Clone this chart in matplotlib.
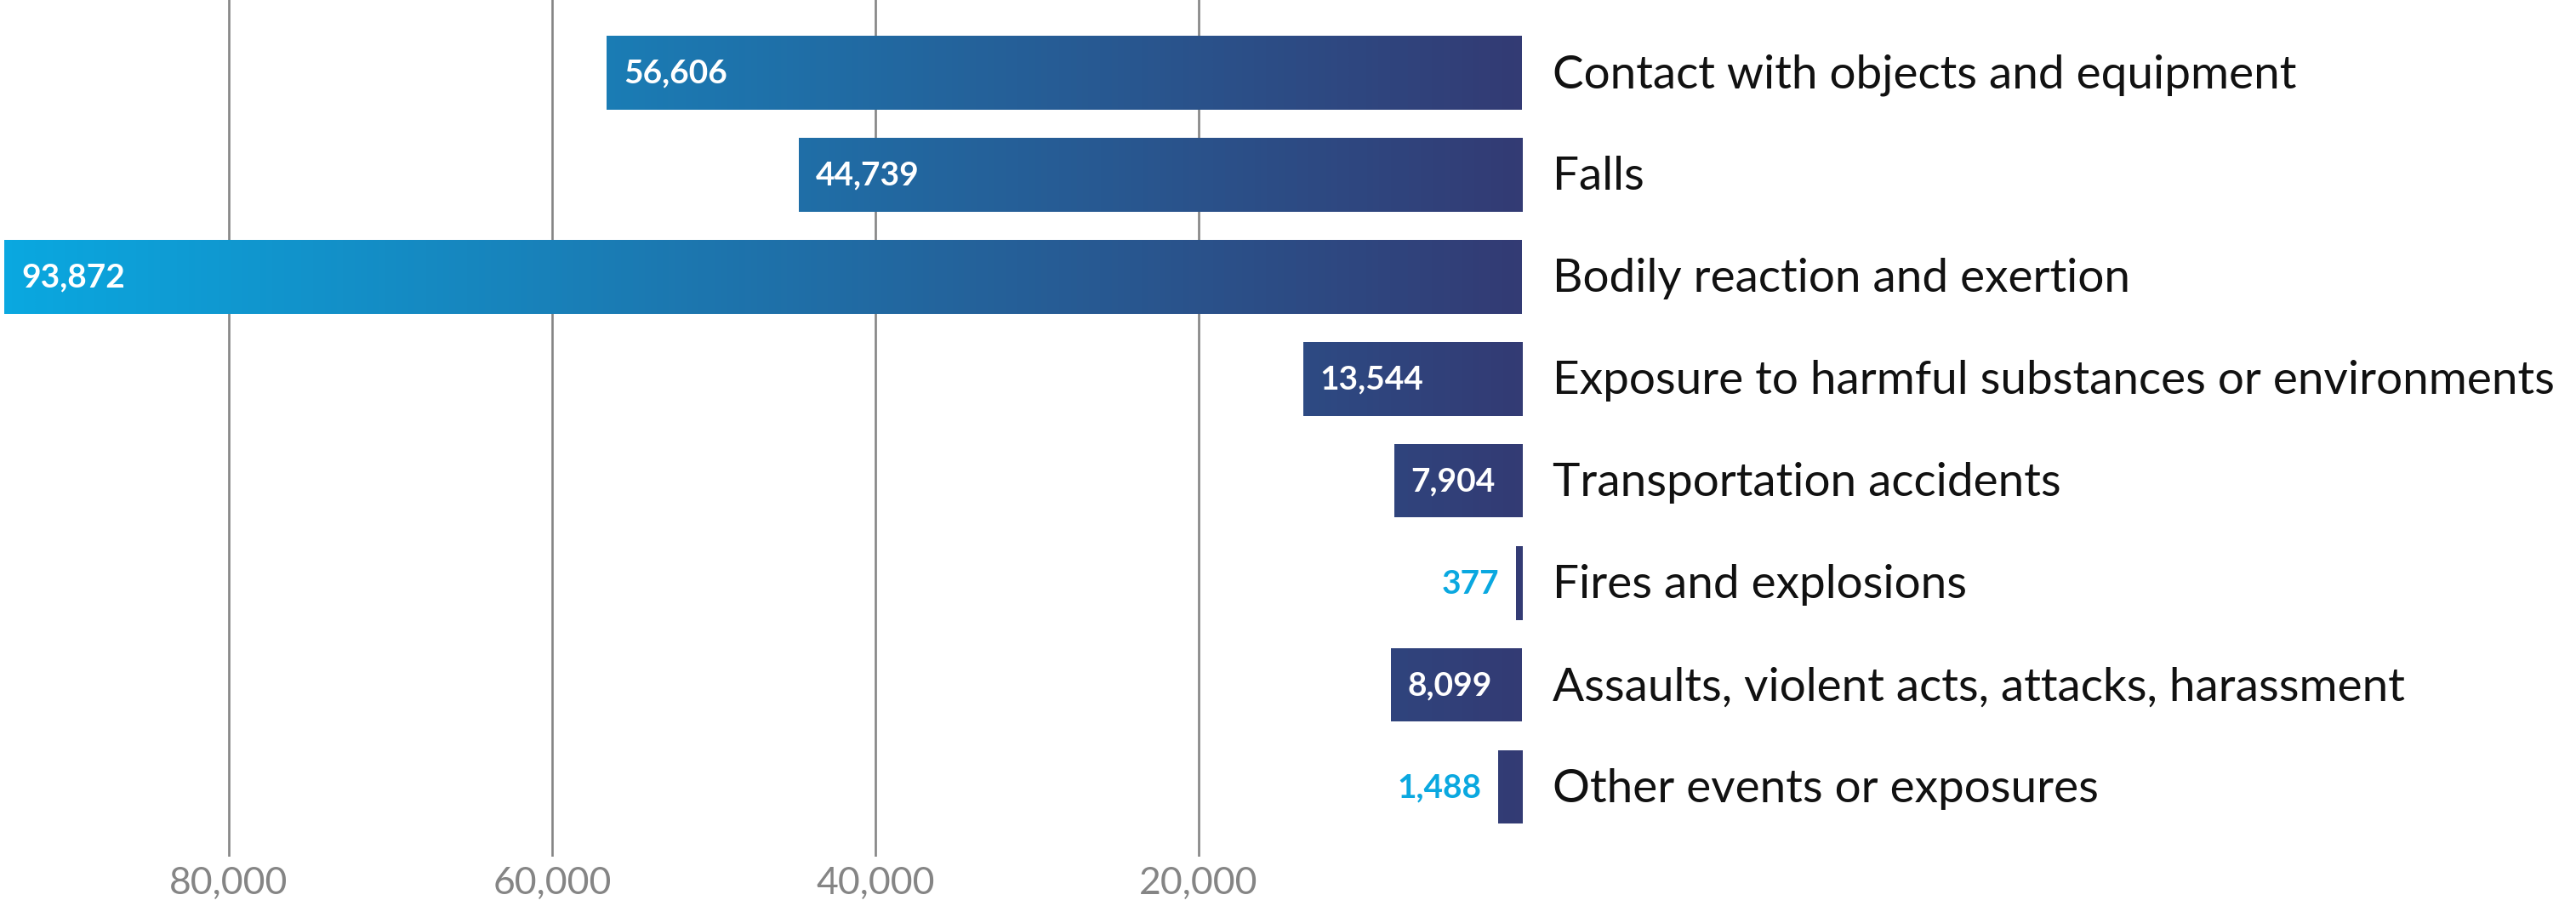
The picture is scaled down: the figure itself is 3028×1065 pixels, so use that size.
import numpy as np
import matplotlib
matplotlib.use("Agg")
import matplotlib.pyplot as plt
from matplotlib.colors import LinearSegmentedColormap

# data
categories = ["Contact with objects and equipment", "Falls",
              "Bodily reaction and exertion",
              "Exposure to harmful substances or environments",
              "Transportation accidents", "Fires and explosions",
              "Assaults, violent acts, attacks, harassment",
              "Other events or exposures"]
values = [56606, 44739, 93872, 13544, 7904, 377, 8099, 1488]
ticks = [80000, 60000, 40000, 20000]

light = "#0aa8e0"
dark = "#333b74"
cmap = LinearSegmentedColormap.from_list("grad", [dark, light])

plt.rcParams['font.family'] = ['Lato', 'DejaVu Sans']

W, H = 3028, 1065
fig = plt.figure(figsize=(W / 100, H / 100), dpi=100)
# axes: zero line at x=1789px, bottom of gridlines at 1007px
ax = fig.add_axes([0, 1 - 1007 / H, 1789 / W, 1007 / H])

n = len(values)
y = np.arange(n)
xmax = 1789 / 0.019

for t in ticks:
    ax.axvline(t, color="#858585", lw=1.9, zorder=1)

bars = ax.barh(y, values, height=0.725, facecolor="none", edgecolor="none", zorder=2)

grad = np.linspace(0, 1, 512).reshape(1, -1)
for b, v, i in zip(bars, values, y):
    im = ax.imshow(grad[:, ::-1], cmap=cmap, aspect="auto",
                   extent=(max(values), 0, i + 0.5, i - 0.5),
                   vmin=0, vmax=1, zorder=2, interpolation="bilinear")
    im.set_clip_path(b)
    if v > 5000:
        ax.annotate(f"{v:,}", xy=(v, i), xytext=(14, -1), textcoords="offset points",
                    ha="left", va="center", color="white", fontsize=28,
                    fontweight="bold", zorder=3)
    else:
        ax.annotate(f"{v:,}", xy=(v, i), xytext=(-14, -1), textcoords="offset points",
                    ha="right", va="center", color=light, fontsize=28,
                    fontweight="bold", zorder=3)
    ax.annotate(categories[i], xy=(0, i), xytext=(26, -2), textcoords="offset points",
                ha="left", va="center", color="#111111", fontsize=39.5,
                annotation_clip=False)

ax.set_xlim(xmax, 0)
ax.set_ylim(7 + (1007 - 925) / 120, -85 / 120)
ax.set_xticks(ticks)
ax.set_xticklabels([f"{t:,}" for t in ticks], color="#858585", fontsize=32)
ax.tick_params(axis="x", length=0, pad=8)
ax.set_yticks([])
for s in ax.spines.values():
    s.set_visible(False)

fig.savefig("out.png", dpi=100, facecolor="white")
